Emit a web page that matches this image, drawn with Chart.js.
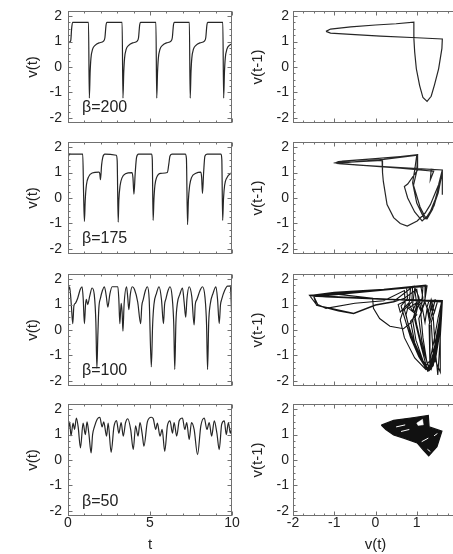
<!DOCTYPE html>
<html>
<head>
<meta charset="utf-8">
<script src="https://cdn.jsdelivr.net/npm/chart.js@4.4.1/dist/chart.umd.min.js"></script>
<style>
  html, body { margin: 0; padding: 0; background: #fff; width: 453px; height: 554px; overflow: hidden; position: relative; }
  canvas { position: absolute; }
  .beta { position: absolute; left: 82px; font: 16px "Liberation Sans", Arial, Helvetica, sans-serif; color: #222; line-height: 18px; }
</style>
</head>
<body>
<canvas id="ts200"></canvas>
<canvas id="ph200"></canvas>
<canvas id="ts175"></canvas>
<canvas id="ph175"></canvas>
<canvas id="ts100"></canvas>
<canvas id="ph100"></canvas>
<canvas id="ts50"></canvas>
<canvas id="ph50"></canvas>
<div class="beta" style="top:98px">β=200</div>
<div class="beta" style="top:229px">β=175</div>
<div class="beta" style="top:361px">β=100</div>
<div class="beta" style="top:492px">β=50</div>
<script>
// tick labels
const vTicks = [-2, -1, 0, 1, 2];
const tTicks = [0, 5, 10];

// time series, beta = 200
const t200 = [0, 0.1, 0.17, 0.22, 0.28,
  1.25, 1.3, 1.35, 1.4, 1.5, 1.65, 1.9, 2.17, 2.25, 2.32, 2.37,
  3.3, 3.35, 3.4, 3.45, 3.55, 3.7, 3.95, 4.22, 4.3, 4.37, 4.42,
  5.36, 5.41, 5.46, 5.51, 5.61, 5.76, 6.01, 6.28, 6.36, 6.43, 6.48,
  7.4, 7.45, 7.5, 7.55, 7.65, 7.8, 8.05, 8.32, 8.4, 8.47, 8.52,
  9.44, 9.49, 9.54, 9.59, 9.69, 9.84, 10];
const v200 = [0.92, 0.98, 1.05, 1.5, 1.75,
  1.75, -1.22, -0.2, 0.35, 0.7, 0.85, 0.95, 1.02, 1.15, 1.65, 1.75,
  1.75, -1.22, -0.2, 0.35, 0.7, 0.85, 0.95, 1.02, 1.15, 1.65, 1.75,
  1.75, -1.22, -0.2, 0.35, 0.7, 0.85, 0.95, 1.02, 1.15, 1.65, 1.75,
  1.75, -1.22, -0.2, 0.35, 0.7, 0.85, 0.95, 1.02, 1.15, 1.65, 1.75,
  1.75, -1.22, -0.2, 0.35, 0.7, 0.85, 0.9];

// beta = 175
const t175 = [0, 0.1, 0.9, 0.95, 1.0, 1.05, 1.12, 1.27, 1.47, 1.88,
  1.94, 1.98, 2.05, 2.12, 2.25, 2.95, 3.0, 3.06, 3.1, 3.18,
  3.3, 3.5, 3.9, 3.96, 4.02, 4.1, 4.18, 4.3, 5.1, 5.14,
  5.19, 5.24, 5.3, 5.4, 5.65, 6.06, 6.14, 6.22, 6.35, 7.15,
  7.22, 7.29, 7.34, 7.42, 7.53, 7.8, 8.1, 8.15, 8.2, 8.27,
  8.35, 8.5, 9.33, 9.38, 9.43, 9.48, 9.55, 9.69, 10];
const v175 = [1.6, 1.72, 1.72, 0.2, -0.92, -0.1, 0.5, 0.85, 0.98, 1.02,
  0.95, 0.72, 1.3, 1.6, 1.72, 1.68, 1.45, -0.95, -0.1, 0.5,
  0.8, 0.95, 1.0, 0.8, 0.15, 1.0, 1.6, 1.72, 1.72, 1.5,
  -0.88, -0.05, 0.5, 0.8, 0.97, 1.0, 1.3, 1.65, 1.72, 1.72,
  1.55, -1.05, -0.1, 0.5, 0.8, 0.97, 1.02, 0.8, 0.18, 1.0,
  1.65, 1.72, 1.72, 1.5, -0.88, -0.05, 0.5, 0.8, 1.0];

// beta = 100
const t100 = [0, 0.1, 0.2, 0.29, 0.36, 0.45, 0.59, 0.75, 0.86, 0.93,
  1.0, 1.07, 1.12, 1.2, 1.33, 1.47, 1.6, 1.7, 1.76, 1.82,
  1.88, 1.98, 2.1, 2.22, 2.33, 2.43, 2.55, 2.69, 3.04, 3.1,
  3.16, 3.24, 3.3, 3.35, 3.42, 3.57, 3.64, 3.71, 3.8, 3.92,
  4.05, 4.25, 4.43, 4.5, 4.59, 4.72, 4.84, 4.95, 5.08, 5.16,
  5.24, 5.4, 5.55, 5.7, 5.82, 5.89, 5.96, 6.1, 6.22, 6.35,
  6.45, 6.51, 6.58, 6.67, 6.82, 6.98, 7.08, 7.18, 7.25, 7.39,
  7.55, 7.69, 7.76, 7.86, 8.05, 8.2, 8.35, 8.45, 8.51, 8.58,
  8.67, 8.85, 9.02, 9.12, 9.22, 9.3, 9.37, 9.55, 9.73, 9.9,
  10];
const v100 = [1.45, 1.7, 1.0, 0.25, 0.95, 1.05, 1.25, 1.6, 1.7, 1.2,
  0.25, 1.0, 1.2, 1.0, 1.35, 1.65, 1.4, 0.3, -1.5, -0.2,
  0.85, 1.25, 1.55, 1.7, 1.35, 0.9, 1.4, 1.7, 1.7, 1.2,
  0.25, 1.05, 0.7, -0.05, 1.0, 1.7, 1.3, 0.8, 1.4, 1.7,
  1.6, 1.1, 0.25, 0.95, 1.2, 1.55, 1.7, 1.2, -1.45, 0.2,
  1.0, 1.45, 1.7, 1.2, 0.25, 1.0, 1.2, 1.55, 1.7, 1.3,
  0.2, -1.55, 0.3, 1.05, 1.4, 1.65, 1.1, 0.5, 1.2, 1.7,
  1.3, 0.2, 1.0, 1.2, 1.55, 1.7, 1.3, 0.2, -1.55, 0.3,
  1.0, 1.45, 1.7, 1.2, 0.25, 1.0, 1.2, 1.55, 1.72, 1.72,
  0.2];

// beta = 50
const t50 = [0, 0.1, 0.18, 0.31, 0.4, 0.51, 0.62, 0.76, 0.92, 1.06,
  1.16, 1.27, 1.41, 1.5, 1.61, 1.78, 1.94, 2.08, 2.18, 2.35,
  2.45, 2.63, 2.8, 2.96, 3.1, 3.24, 3.37, 3.51, 3.65, 3.82,
  3.98, 4.12, 4.27, 4.39, 4.53, 4.63, 4.84, 5.08, 5.2, 5.35,
  5.45, 5.61, 5.74, 5.9, 6.06, 6.22, 6.37, 6.47, 6.63, 6.78,
  6.98, 7.12, 7.24, 7.39, 7.53, 7.69, 7.9, 8.1, 8.31, 8.47,
  8.61, 8.76, 8.92, 9.08, 9.22, 9.37, 9.53, 9.65, 9.78, 9.9,
  10];
const v50 = [1.07, 1.5, 0.95, 1.45, 1.2, 1.65, 1.3, 0.48, 1.45, 1.0,
  1.5, 1.05, 0.28, 1.0, 1.3, 1.6, 1.68, 1.3, 1.5, 0.94,
  1.45, 0.3, 1.3, 1.55, 1.05, 1.47, 0.94, 1.47, 1.62, 1.2,
  0.41, 1.34, 0.94, 1.47, 1.0, 0.54, 1.5, 1.68, 1.62, 1.2,
  1.45, 0.94, 1.2, 0.34, 1.34, 1.54, 1.05, 1.47, 0.94, 1.54,
  1.65, 1.2, 1.47, 0.81, 1.47, 1.2, 0.21, 1.34, 1.65, 1.2,
  1.47, 0.94, 1.54, 1.05, 0.41, 1.4, 1.54, 1.0, 1.47, 1.05,
  1.3];

// delay plots: [v(t), v(t-1)]
const phase200 = [[-1.2, 1.4], [-1.09, 1.49], [-0.6, 1.58], [0, 1.65], [0.5, 1.7], [0.93, 1.76],
  [0.93, 1.13], [0.95, 0.59], [0.99, -0.07], [1.07, -0.73], [1.15, -1.2], [1.25, -1.35],
  [1.35, -1.15], [1.43, -0.7], [1.53, -0.07], [1.61, 0.73], [1.62, 1.1],
  [1.0, 1.15], [0.12, 1.21], [-0.6, 1.28], [-1.09, 1.33], [-1.2, 1.4]];

const phase175 = [[-0.97, 1.38], [0.16, 1.48], [0.17, 1.0], [0.19, 0.65], [0.28, -0.26], [0.44, -0.77],
  [0.6, -1.0], [0.77, -1.1], [1.01, -0.9], [1.2, -0.6], [1.33, -0.26], [1.53, 0.52], [1.62, 1.1],
  [0.5, 1.2], [-0.5, 1.3], [-0.97, 1.38],
  [-0.9, 1.43], [0, 1.55], [0.6, 1.63], [1.02, 1.7], [1.02, 1.1], [0.78, 0.55], [0.7, 0.45],
  [0.78, 0.0], [0.95, -0.55], [1.13, -0.9], [1.3, -0.65], [1.45, -0.05], [1.57, 0.65], [1.62, 1.1],
  [0.3, 1.21], [-0.9, 1.35], [-0.97, 1.38],
  [-0.8, 1.45], [0.4, 1.6], [1.0, 1.68], [0.95, 1.1], [0.9, 0.6], [1.0, -0.2], [1.18, -0.8],
  [1.25, -0.82], [1.38, -0.45], [1.52, 0.2], [1.6, 0.85], [1.62, 1.1], [1.35, 1.12], [1.33, 0.72],
  [1.41, 1.05], [0.6, 1.17], [-0.95, 1.36],
  [0.2, 1.52], [1.02, 1.68], [1.0, 1.05], [0.92, 0.5], [1.08, -0.35], [1.22, -0.8], [1.42, -0.3],
  [1.55, 0.45], [1.62, 1.1], [1.62, 0.13]];

const phase100 = [[-1.59, 1.36], [-0.5, 1.5], [0.5, 1.63], [1.25, 1.73], [1.2, 1.2], [1.1, 0.6],
  [1.15, -0.3], [1.24, -1.2], [1.3, -1.55], [1.38, -1.25], [1.48, -0.35], [1.56, 0.55], [1.62, 1.14],
  [0.5, 1.2], [-0.8, 1.28], [-1.55, 1.34],
  [-0.6, 1.46], [0.3, 1.58], [0.85, 1.66], [0.82, 1.1], [0.74, 0.6], [0.85, -0.2], [1.05, -1.0],
  [1.2, -1.45], [1.32, -1.2], [1.42, -0.4], [1.52, 0.5], [1.6, 1.1],
  [0.6, 1.18], [-0.6, 1.26], [-1.5, 1.33],
  [-1.43, 0.97], [-0.9, 0.75], [-0.53, 0.64], [0.0, 0.97], [0.44, 1.1], [0.7, 1.25], [1.0, 1.6],
  [1.05, 1.1], [0.95, 0.4], [1.1, -0.6], [1.26, -1.6], [1.35, -1.35], [1.45, -0.5], [1.55, 0.4], [1.61, 1.1],
  [0.3, 1.22], [-1.55, 1.35],
  [-1.0, 1.42], [-0.07, 1.25], [-0.05, 0.85], [0.1, 0.45], [0.35, 0.15], [0.68, 0.05], [0.9, 0.35],
  [1.0, 1.0], [0.95, 1.62], [0.9, 1.0], [1.0, 0.2], [1.15, -0.8], [1.3, -1.5], [1.4, -1.3], [1.5, -0.6],
  [1.56, 0.3], [1.62, 1.14],
  [0.2, 1.2], [-1.0, 1.3], [-1.58, 1.36],
  [-0.8, 1.5], [0.5, 1.62], [1.15, 1.7], [1.12, 1.0], [1.2, 0.3], [1.25, 0.85], [1.3, 0.4], [1.35, 1.0],
  [1.4, 0.5], [1.45, -0.8], [1.51, -1.77], [1.55, -0.8], [1.6, 0.5], [1.62, 1.12],
  [0.0, 1.22], [-1.2, 1.3], [-1.5, 1.34],
  [-1.4, 1.0], [-1.2, 0.85], [-0.5, 1.05], [0.2, 1.15], [0.7, 1.55], [0.72, 1.0], [0.6, 0.4],
  [0.7, -0.3], [0.95, -1.1], [1.22, -1.55], [1.33, -1.4], [1.44, -0.7], [1.54, 0.2], [1.6, 0.9], [1.62, 1.14],
  [0.9, 1.16], [-0.3, 1.24], [-1.4, 1.32],
  [-0.2, 1.5], [0.95, 1.68], [1.05, 1.3], [1.1, 0.8], [1.2, 1.1], [1.28, 0.7], [1.35, 1.2], [1.4, 0.9],
  [1.45, 1.2], [1.3, 0.2], [1.32, -1.5], [1.45, -1.2], [1.55, -0.2], [1.62, 1.1],
  [0.5, 1.19], [-1.58, 1.36],
  [0.0, 1.56], [1.1, 1.72], [1.15, 1.25], [0.8, 0.85], [1.0, 0.6], [0.85, 0.35], [0.95, -0.5],
  [1.2, -1.4], [1.28, -1.6], [1.4, -1.4], [1.5, -0.5], [1.58, 0.5], [1.62, 1.14],
  [0.4, 1.19], [-0.9, 1.28], [-1.6, 1.36],
  [-0.3, 1.52], [0.75, 1.68], [0.78, 1.25], [0.62, 0.95], [0.7, 0.5], [0.85, -0.3], [1.05, -1.05],
  [1.22, -1.5], [1.3, -1.45], [1.42, -0.8], [1.52, 0.1], [1.59, 0.8], [1.62, 1.16],
  [1.2, 1.18], [0.8, 1.2], [0.55, 1.0], [0.6, 0.7], [0.8, 1.05], [0.9, 0.75], [1.0, 1.1], [1.1, 0.75],
  [1.2, 1.1], [1.05, 0.45], [1.12, -0.4], [1.25, -1.3], [1.35, -1.55], [1.45, -1.0], [1.53, -0.1],
  [1.58, 0.7], [1.62, 1.15],
  [0.0, 1.23], [-1.3, 1.32], [-1.6, 1.35],
  [-1.0, 1.48], [0.2, 1.6], [1.22, 1.76], [1.2, 1.2], [1.0, 0.9], [0.9, 0.4], [0.98, -0.4], [1.15, -1.2],
  [1.3, -1.6], [1.36, -1.5], [1.47, -0.7], [1.55, 0.2], [1.61, 1.0], [1.62, 1.14],
  [1.3, 1.17], [1.25, 0.9], [1.3, 0.6], [1.38, 0.95], [1.43, 0.7], [1.5, 1.1], [1.35, 0.3], [1.4, -1.0],
  [1.57, -1.65], [1.57, 0.2], [1.62, 1.14],
  [0.7, 1.18], [-0.4, 1.25], [-1.6, 1.36], [-1.42, 0.97], [-0.53, 0.66], [0.0, 0.99], [0.44, 1.12],
  [0.9, 1.7], [0.88, 1.1], [0.7, 0.8], [0.8, 0.2], [1.0, -0.8], [1.25, -1.5], [1.33, -1.45],
  [1.45, -0.6], [1.55, 0.3], [1.62, 1.14]];

const phase50 = [[0.14, 1.37], [0.44, 1.56], [0.9, 1.66], [1.28, 1.75], [1.3, 1.3], [1.61, 1.13],
  [1.49, 0.52], [1.29, 0.16], [1.16, 0.39], [1.01, 0.67], [0.7, 0.85], [0.44, 0.98], [0.25, 1.2], [0.14, 1.37]];
const phase50Hole = [[1.0, 1.45], [1.14, 1.6], [1.16, 1.38], [1.03, 1.36], [1.0, 1.45]];
const phase50Gaps = [[0.5, 1.3], [0.72, 1.38], null, [0.62, 1.12], [0.82, 1.2], null,
  [1.12, 0.72], [1.28, 0.86], null, [1.26, 0.42], [1.33, 0.33], null, [1.42, 0.95], [1.5, 1.04]];

const ink = '#262626';
const family = '"Liberation Sans", Arial, Helvetica, sans-serif';
const font = { family, size: 14 };
const titleFont = { family, size: 15, lineHeight: 1 };

const plotTops = [11, 142, 274, 404];
const plotHeight = 112;
const cols = {
  left: { left: 0, width: 240, yWidth: 68, padRight: 8, tickPad: 6, titlePad: 25, xMin: 0, xMax: 10, xStep: 1, xMajor: 5, xTicks: tTicks, xTitle: 't', yTitle: 'v(t)' },
  right: { left: 230, width: 240, yWidth: 63, padRight: 12, tickPad: 4, titlePad: 20, xMin: -2, xMax: 2, xStep: 0.25, xMajor: 1, xTicks: vTicks, xTitle: 'v(t)', yTitle: 'v(t-1)' }
};

const series = (t, v) => t.map((x, i) => ({ x, y: v[i] }));
const pts = arr => arr.map(p => p ? { x: p[0], y: p[1] } : { x: null, y: null });

// frame with small inward ticks on all four sides
const framePlugin = {
  id: 'frame',
  afterDraw(chart, args, o) {
    const { ctx, chartArea: a } = chart;
    const xs = chart.scales.x, ys = chart.scales.y;
    const L = Math.round(a.left) + 0.5, R = Math.round(a.right) - 0.5;
    const T = Math.round(a.top) + 0.5, B = Math.round(a.bottom) - 0.5;
    ctx.save();
    ctx.strokeStyle = '#707070';
    ctx.lineWidth = 1;
    ctx.beginPath();
    const isMajor = (v, m) => Math.abs(v / m - Math.round(v / m)) < 1e-6;
    for (let v = o.xMin; v <= o.xMax + 1e-9; v += o.xStep) {
      const p = Math.round(xs.getPixelForValue(v)) + 0.5;
      const len = isMajor(v, o.xMajor) ? 4 : 2;
      ctx.moveTo(p, T); ctx.lineTo(p, T + len);
      ctx.moveTo(p, B); ctx.lineTo(p, B - len);
    }
    for (let v = -2; v <= 2 + 1e-9; v += 0.25) {
      const p = Math.round(ys.getPixelForValue(v)) + 0.5;
      const len = isMajor(v, 1) ? 4 : 2;
      ctx.moveTo(L, p); ctx.lineTo(L + len, p);
      ctx.moveTo(R, p); ctx.lineTo(R - len, p);
    }
    ctx.stroke();
    ctx.strokeRect(L, T, R - L, B - T);
    ctx.restore();
  }
};

function panel(id, col, row, datasets) {
  const c = document.getElementById(id);
  const bottomRow = row === 3;
  const top = plotTops[row] - 6;
  const height = bottomRow ? 554 - top : plotHeight + 12;
  c.width = col.width;
  c.height = height;
  c.style.left = col.left + 'px';
  c.style.top = top + 'px';

  new Chart(c, {
    type: 'scatter',
    data: { datasets },
    plugins: [framePlugin],
    options: {
      responsive: false,
      animation: false,
      events: [],
      layout: { padding: { left: 0, right: col.padRight, top: 6, bottom: bottomRow ? 0 : 6 } },
      plugins: {
        legend: { display: false },
        tooltip: { enabled: false },
        frame: { xMin: col.xMin, xMax: col.xMax, xStep: col.xStep, xMajor: col.xMajor }
      },
      elements: { point: { radius: 0 }, line: { borderWidth: 1.2, borderColor: ink, tension: 0 } },
      scales: {
        x: {
          type: 'linear', min: col.xMin, max: col.xMax,
          grid: { display: false, drawTicks: false }, border: { display: false },
          ticks: { display: bottomRow, padding: 0, color: '#222', font: { ...font, lineHeight: 1 } },
          afterBuildTicks: s => { s.ticks = col.xTicks.map(value => ({ value })); },
          afterFit: s => { s.height = bottomRow ? 554 - (plotTops[3] + plotHeight) : 0; s.paddingLeft = 0; s.paddingRight = 0; },
          title: { display: bottomRow, text: col.xTitle, color: '#222', font: titleFont, padding: { top: 0, bottom: 2 } }
        },
        y: {
          type: 'linear', min: -2.2, max: 2.2,
          grid: { display: false, drawTicks: false }, border: { display: false },
          ticks: { padding: col.tickPad, color: '#222', font },
          afterBuildTicks: s => { s.ticks = vTicks.map(value => ({ value })); },
          afterFit: s => { s.width = col.yWidth; s.paddingTop = 0; s.paddingBottom = 0; },
          title: { display: true, text: col.yTitle, color: '#222', font: titleFont, padding: { top: col.titlePad, bottom: 0 } }
        }
      }
    }
  });
}

const lineSet = (data, extra) => Object.assign({ data, showLine: true, borderColor: ink, borderWidth: 1.2, pointRadius: 0, fill: false }, extra || {});
// time series are drawn as smooth curves through the read points
const smooth = { cubicInterpolationMode: 'monotone' };

panel('ts200', cols.left, 0, [lineSet(series(t200, v200), smooth)]);
panel('ph200', cols.right, 0, [lineSet(pts(phase200))]);
panel('ts175', cols.left, 1, [lineSet(series(t175, v175), smooth)]);
panel('ph175', cols.right, 1, [lineSet(pts(phase175))]);
panel('ts100', cols.left, 2, [lineSet(series(t100, v100), smooth)]);
panel('ph100', cols.right, 2, [lineSet(pts(phase100), { borderColor: '#151515', borderWidth: 1.1 })]);
panel('ts50', cols.left, 3, [lineSet(series(t50, v50), smooth)]);
panel('ph50', cols.right, 3, [
  lineSet(pts(phase50Gaps), { borderColor: '#fff', borderWidth: 1, spanGaps: false, order: 0 }),
  lineSet(pts(phase50Hole), { borderColor: '#fff', backgroundColor: '#fff', borderWidth: 0.5, fill: 'shape', order: 1 }),
  lineSet(pts(phase50), { borderColor: '#111', backgroundColor: '#111', fill: 'shape', order: 2 })
]);
</script>
</body>
</html>
